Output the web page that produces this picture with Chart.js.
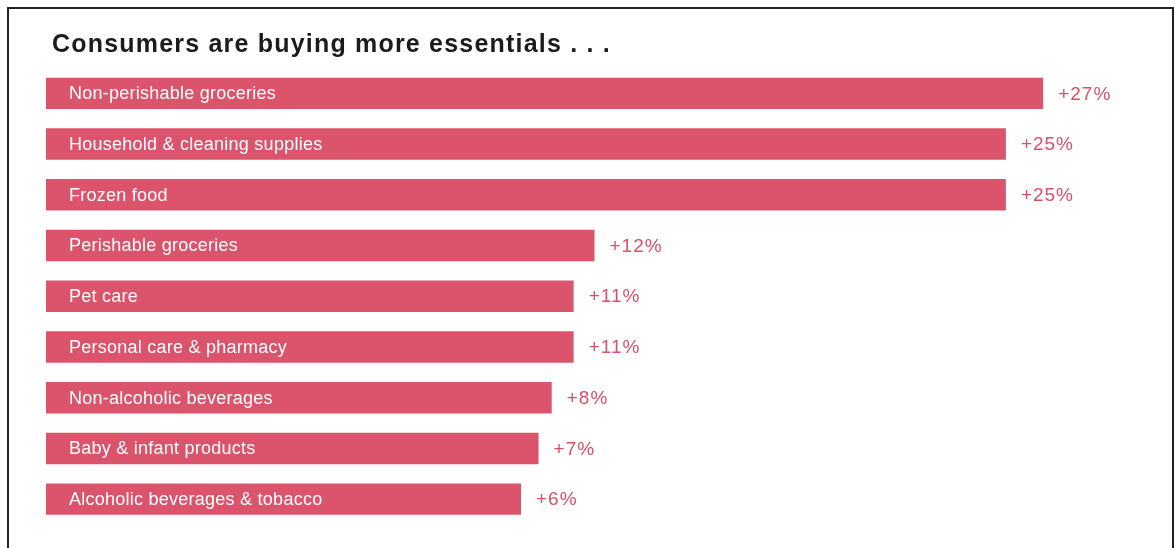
<!DOCTYPE html>
<html>
<head>
<meta charset="utf-8">
<script src="https://cdn.jsdelivr.net/npm/chart.js@4.4.1/dist/chart.umd.min.js"></script>
<style>
  html, body { margin: 0; padding: 0; background: #fff; }
  #wrap { position: relative; width: 1175px; height: 548px; overflow: hidden; }
  #frame { position: absolute; left: 7px; top: 7px; width: 1167px; height: 600px; border: 2px solid #222; box-sizing: border-box; }
  canvas { position: absolute; left: 0; top: 0; }
</style>
</head>
<body>
<div id="wrap">
  <div id="frame"></div>
  <canvas id="myChart" width="1175" height="548"></canvas>
</div>
<script>
// data
const title = 'Consumers are buying more essentials . . .';
const categories = [
    'Non-perishable groceries',
    'Household & cleaning supplies',
    'Frozen food',
    'Perishable groceries',
    'Pet care',
    'Personal care & pharmacy',
    'Non-alcoholic beverages',
    'Baby & infant products',
    'Alcoholic beverages & tobacco'
];
// growth printed next to each bar
const growth = [27, 25, 25, 12, 11, 11, 8, 7, 6];
// bar length as drawn in the picture (share of plot width, %) - bars are not to scale with growth
const barLength = [90.9, 87.5, 87.5, 50.0, 48.1, 48.1, 46.1, 44.9, 43.3];

const barColor = '#db546b';
const valueColor = '#d9506a';
const fontFamily = '"Liberation Sans", Arial, Helvetica, sans-serif';

// title + labels drawn on the canvas
const textPlugin = {
    id: 'textPlugin',
    afterDatasetsDraw(chart) {
        const ctx = chart.ctx;
        const meta = chart.getDatasetMeta(0);
        ctx.save();

        ctx.font = 'bold 25px ' + fontFamily;
        ctx.letterSpacing = '1.2px';
        ctx.fillStyle = '#1b1b1b';
        ctx.textAlign = 'left';
        ctx.textBaseline = 'alphabetic';
        ctx.fillText(title, 52, 52);

        ctx.textBaseline = 'middle';
        meta.data.forEach((bar, i) => {
            ctx.font = '18px ' + fontFamily;
            ctx.letterSpacing = '0.25px';
            ctx.fillStyle = '#ffffff';
            ctx.fillText(categories[i], bar.base + 23, bar.y + 1);

            ctx.font = '19px ' + fontFamily;
            ctx.letterSpacing = '1px';
            ctx.fillStyle = valueColor;
            ctx.fillText('+' + growth[i] + '%', bar.x + 15, bar.y + 1);
        });
        ctx.restore();
    }
};

const ctx = document.getElementById('myChart').getContext('2d');
const myChart = new Chart(ctx, {
    type: 'bar',
    data: {
        labels: categories,
        datasets: [{
            data: barLength,
            backgroundColor: barColor,
            borderWidth: 0,
            categoryPercentage: 1,
            barPercentage: 0.62
        }]
    },
    options: {
        indexAxis: 'y',
        responsive: false,
        animation: false,
        layout: { padding: { left: 46, right: 32, top: 68, bottom: 23.5 } },
        plugins: {
            legend: { display: false },
            tooltip: { enabled: false }
        },
        scales: {
            x: { display: false, min: 0, max: 100 },
            y: { display: false }
        }
    },
    plugins: [textPlugin]
});
</script>
</body>
</html>
